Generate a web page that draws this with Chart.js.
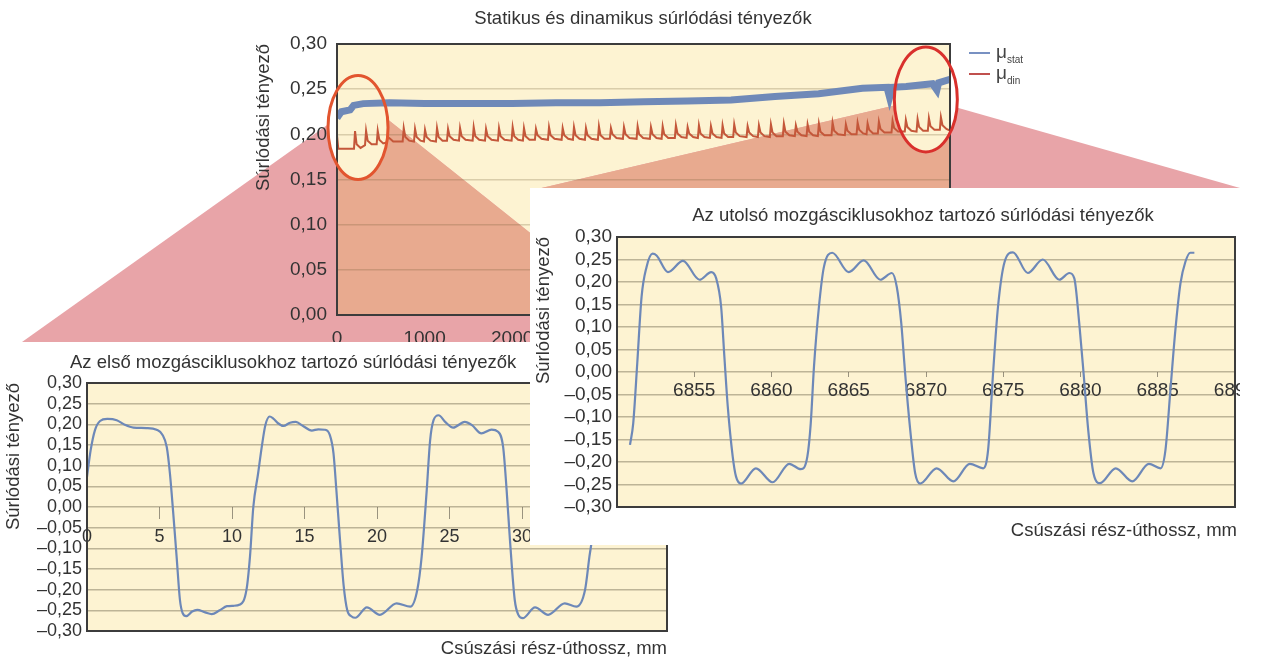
<!DOCTYPE html>
<html>
<head>
<meta charset="utf-8">
<script src="https://cdn.jsdelivr.net/npm/chart.js@4.4.1/dist/chart.umd.min.js"></script>
<style>
    body { margin: 0; background: #fff; font-family: "Liberation Sans", Arial, sans-serif; color: #333; }
    #wrap { position: relative; width: 1269px; height: 659px; overflow: hidden; }
    canvas { position: absolute; left: 0; top: 0; }
    .box { position: absolute; background: #fff; }
    .t { position: absolute; white-space: nowrap; font-size: 18.5px; line-height: 20px; color: #333; }
    #legend { position: absolute; left: 969px; top: 42px; font-size: 19px; color: #444; }
    #legend .row { display: flex; align-items: center; height: 21px; }
    #legend .sw { width: 21px; height: 2px; margin-right: 6px; }
    #legend sub { font-size: 10px; vertical-align: -5px; }
</style>
</head>
<body>
<div id="wrap">
    <canvas id="mainChart" width="1269" height="659"></canvas>
    <div class="t" style="left:643px; top:8px; transform:translateX(-50%);">Statikus és dinamikus súrlódási tényezők</div>
    <div id="legend">
        <div class="row"><span class="sw" style="background:#7891c2"></span><span>μ<sub>stat</sub></span></div>
        <div class="row"><span class="sw" style="background:#c0504d"></span><span>μ<sub>din</sub></span></div>
    </div>

    <div class="box" style="left:0; top:342px; width:680px; height:317px; z-index:1;">
        <canvas id="firstChart" width="680" height="317"></canvas>
        <div class="t" style="left:70px; top:10px;">Az első mozgásciklusokhoz tartozó súrlódási tényezők</div>
        <div class="t" style="right:13px; top:296px;">Csúszási rész-úthossz, mm</div>
    </div>

    <div class="box" style="left:530px; top:188px; width:710px; height:357px; z-index:2;">
        <canvas id="lastChart" width="710" height="357"></canvas>
        <div class="t" style="left:393px; top:17px; transform:translateX(-50%);">Az utolsó mozgásciklusokhoz tartozó súrlódási tényezők</div>
        <div class="t" style="right:3px; top:332px;">Csúszási rész-úthossz, mm</div>
    </div>
</div>

<script>
// --- Felső diagram: statikus / dinamikus súrlódási tényező a csúszási úthossz mentén ---
const mainXTicks = [0, 1000, 2000, 3000, 4000, 5000, 6000, 7000];
const mainYTicks = [0, 0.05, 0.10, 0.15, 0.20, 0.25, 0.30];

const statX = [0, 20, 50, 150, 190, 300, 600, 1000, 1500, 2000, 2500, 3000, 3500, 4000, 4500, 5000, 5500, 6000, 6280, 6310, 6340, 6500, 6800, 6850, 6870, 7000];
const statY = [0.218, 0.221, 0.225, 0.227, 0.232, 0.234, 0.235, 0.234, 0.234, 0.234, 0.235, 0.235, 0.236, 0.237, 0.238, 0.242, 0.245, 0.251, 0.252, 0.241, 0.252, 0.253, 0.256, 0.249, 0.257, 0.261];

// a dinamikus görbe csúcsai: hely, alapszint előtte, csúcsérték
const dinSpikeX = [194, 320, 453, 567, 750, 879, 993, 1130, 1256, 1393,
    1549, 1690, 1838, 1994, 2123, 2260, 2409, 2565, 2694, 2831,
    2979, 3116, 3265, 3421, 3573, 3707, 3858, 3992, 4121, 4258,
    4391, 4524, 4677, 4806, 4943, 5091, 5228, 5362, 5491, 5647,
    5799, 5933, 6047, 6176, 6332, 6484, 6618, 6747, 6884];
const dinBase = [0.184, 0.188, 0.189, 0.191, 0.192, 0.192, 0.192, 0.192, 0.193, 0.193,
    0.193, 0.193, 0.193, 0.193, 0.193, 0.194, 0.194, 0.194, 0.194, 0.194,
    0.194, 0.195, 0.195, 0.195, 0.195, 0.195, 0.196, 0.196, 0.196, 0.196,
    0.196, 0.197, 0.197, 0.197, 0.197, 0.198, 0.198, 0.198, 0.198, 0.199,
    0.199, 0.200, 0.200, 0.201, 0.202, 0.203, 0.203, 0.204, 0.205];
const dinPeak = [0.2035, 0.204, 0.204, 0.197, 0.207, 0.206, 0.205, 0.207, 0.206, 0.207,
    0.208, 0.206, 0.207, 0.208, 0.207, 0.206, 0.208, 0.207, 0.208, 0.207,
    0.209, 0.207, 0.208, 0.209, 0.208, 0.209, 0.210, 0.208, 0.210, 0.209,
    0.210, 0.211, 0.209, 0.210, 0.211, 0.212, 0.210, 0.211, 0.212, 0.213,
    0.211, 0.213, 0.212, 0.214, 0.215, 0.216, 0.217, 0.218, 0.219];

// --- Alsó diagramok: az első és az utolsó mozgásciklusok ---
const cycleYTicks = [-0.30, -0.25, -0.20, -0.15, -0.10, -0.05, 0, 0.05, 0.10, 0.15, 0.20, 0.25, 0.30];
const firstXTicks = [0, 5, 10, 15, 20, 25, 30, 35, 40];
const lastXTicks = [6855, 6860, 6865, 6870, 6875, 6880, 6885, 6890];

const firstX = [0, 0.25, 0.55, 0.9, 1.4, 2.05, 2.6, 3.2, 4.1, 4.8, 5.2, 5.5, 5.72, 5.95, 6.18, 6.41, 6.6, 6.85, 7.25, 7.6,
    8.15, 8.6, 9.15, 9.65, 10.1, 10.55, 11.0, 11.24, 11.47, 11.8, 12.05, 12.3, 12.6, 12.85, 13.2, 13.55, 14.0, 14.4, 14.9, 15.5,
    15.95, 16.4, 16.75, 17.0, 17.2, 17.45, 17.7, 17.95, 18.25, 18.5, 19.3, 20.2, 21.35, 22.3, 22.78, 23.08, 23.43, 23.66, 23.9, 24.25,
    24.7, 25.25, 26.05, 26.55, 27.2, 27.9, 28.35, 28.7, 28.94, 29.17, 29.5, 29.75, 30.05, 30.9, 31.8, 32.95, 33.75, 34.35, 34.65, 34.85,
    35.1, 35.4, 35.7, 36.1];
const firstY = [0.073, 0.137, 0.186, 0.208, 0.213, 0.210, 0.199, 0.192, 0.191, 0.187, 0.175, 0.145, 0.081, -0.016, -0.120, -0.225, -0.257, -0.264, -0.253, -0.249,
    -0.255, -0.259, -0.250, -0.240, -0.239, -0.236, -0.200, -0.120, 0.000, 0.081, 0.145, 0.198, 0.219, 0.214, 0.202, 0.196, 0.204, 0.206, 0.196, 0.185,
    0.188, 0.187, 0.174, 0.130, 0.040, -0.080, -0.190, -0.250, -0.265, -0.268, -0.243, -0.261, -0.233, -0.241, -0.200, -0.120, 0.041, 0.160, 0.210, 0.222,
    0.206, 0.192, 0.206, 0.198, 0.178, 0.187, 0.182, 0.145, 0.041, -0.080, -0.225, -0.261, -0.269, -0.243, -0.261, -0.233, -0.241, -0.200, -0.120, -0.070,
    0.040, 0.170, 0.210, 0.220];

const lastX = [6850.84, 6851.05, 6851.31, 6851.59, 6851.91, 6852.3, 6852.56, 6853.3, 6854.27, 6855.34, 6856.1, 6856.42, 6856.74, 6856.95, 6857.17,
    6857.49, 6857.7, 6858.03, 6858.99, 6860.07, 6861.15, 6861.9, 6862.32, 6862.54, 6862.75, 6863.07, 6863.39, 6863.93, 6865.0, 6865.97,
    6867.04, 6867.79, 6868.11, 6868.4, 6868.65, 6868.98, 6869.3, 6869.62, 6870.69, 6871.77, 6872.84, 6873.7, 6874.02, 6874.34, 6874.66,
    6875.09, 6875.63, 6876.59, 6877.56, 6878.63, 6879.28, 6879.6, 6879.92, 6880.2, 6880.5, 6880.84, 6881.27, 6882.28, 6883.35, 6884.43,
    6885.18, 6885.5, 6885.82, 6886.14, 6886.47, 6886.79, 6887.11, 6887.37];
const lastY = [-0.162, -0.114, 0.019, 0.167, 0.233, 0.263, 0.259, 0.222, 0.247, 0.205, 0.222, 0.208, 0.145, 0.034, -0.077,
    -0.188, -0.232, -0.248, -0.214, -0.245, -0.204, -0.216, -0.188, -0.114, 0.012, 0.145, 0.233, 0.265, 0.222, 0.248,
    0.205, 0.220, 0.189, 0.108, -0.003, -0.129, -0.225, -0.248, -0.214, -0.243, -0.204, -0.214, -0.173, -0.003, 0.145,
    0.245, 0.266, 0.220, 0.250, 0.205, 0.220, 0.208, 0.108, -0.003, -0.129, -0.225, -0.247, -0.214, -0.243, -0.204,
    -0.214, -0.173, -0.040, 0.093, 0.197, 0.245, 0.265, 0.265];

// nagyítási jelölések (ellipszis: adatkoordináta + sugár px-ben; legyező: oldal-koordináták)
const ellipses = [
    { x: 240, y: 0.2075, rx: 30, ry: 52, color: '#e2552f' },
    { x: 6724, y: 0.2386, rx: 31.5, ry: 52.5, color: '#d9302c' }
];
const fans = [
    [[330, 123], [386, 118], [667, 342], [22, 342]],
    [[905, 103], [955, 107], [1240, 188], [533, 190]]
];

const FONT = '"Liberation Sans", Arial, sans-serif';
const TEXT = '#333';
const PLOT_BG = '#fdf3d2';

const fmtComma = (v) => {
    const r = Math.round(v * 100) / 100;
    return (r < 0 ? '\u2013' : '') + Math.abs(r).toFixed(2).replace('.', ',');
};
const fixedTicks = (arr) => (scale) => { scale.ticks = arr.map(v => ({ value: v })); };
const toPoints = (xs, ys) => xs.map((x, i) => ({ x, y: ys[i] }));

const buildDinPoints = () => {
    const pts = [{ x: 0, y: 0.199 }, { x: 15, y: 0.184 }];
    dinSpikeX.forEach((x, i) => {
        const b = dinBase[i];
        pts.push({ x, y: b }, { x: x + 12, y: dinPeak[i] }, { x: x + 30, y: b + 0.005 }, { x: x + 75, y: b + 0.001 });
    });
    pts.push({ x: 7000, y: 0.204 });
    return pts;
};

const plotBg = {
    id: 'plotBg',
    beforeDraw(chart) {
        const { ctx, chartArea: a } = chart;
        ctx.save();
        ctx.fillStyle = PLOT_BG;
        ctx.fillRect(a.left, a.top, a.right - a.left, a.bottom - a.top);
        ctx.restore();
    }
};

const frame = {
    id: 'frame',
    afterDatasetsDraw(chart) {
        const { ctx, chartArea: a } = chart;
        ctx.save();
        ctx.strokeStyle = '#3c3c3c';
        ctx.lineWidth = 2;
        ctx.strokeRect(a.left, a.top, a.right - a.left, a.bottom - a.top);
        ctx.restore();
    }
};

const ellipsePx = (chart, e) => ({
    cx: chart.scales.x.getPixelForValue(e.x),
    cy: chart.scales.y.getPixelForValue(e.y),
    rx: e.rx, ry: e.ry, color: e.color
});

// legyezők a felső diagram plot-háttere fölött, az ellipszisek belsejét kihagyva
const zoomFans = {
    id: 'zoomFans',
    beforeDraw(chart) {
        const { ctx, chartArea: a } = chart;
        ctx.save();
        ctx.fillStyle = PLOT_BG;
        ctx.fillRect(a.left, a.top, a.right - a.left, a.bottom - a.top);

        ctx.beginPath();
        ctx.rect(0, 0, chart.width, chart.height);
        ellipses.map(e => ellipsePx(chart, e)).forEach(e => {
            ctx.moveTo(e.cx + e.rx, e.cy);
            ctx.ellipse(e.cx, e.cy, e.rx, e.ry, 0, 0, Math.PI * 2);
        });
        ctx.clip('evenodd');

        const poly = (pts) => {
            ctx.beginPath();
            pts.forEach(([px, py], i) => (i ? ctx.lineTo(px, py) : ctx.moveTo(px, py)));
            ctx.closePath();
        };
        fans.forEach(pts => {
            poly(pts);
            ctx.fillStyle = '#e8a4a8';
            ctx.fill();
            ctx.save();
            ctx.beginPath();
            ctx.rect(a.left, a.top, a.right - a.left, a.bottom - a.top);
            ctx.clip();
            poly(pts);
            ctx.fillStyle = '#e8aa8f';
            ctx.fill();
            ctx.restore();
        });
        ctx.restore();
    },
    afterDraw(chart) {
        const { ctx } = chart;
        ctx.save();
        ctx.lineWidth = 3;
        ellipses.map(e => ellipsePx(chart, e)).forEach(e => {
            ctx.strokeStyle = e.color;
            ctx.beginPath();
            ctx.ellipse(e.cx, e.cy, e.rx, e.ry, 0, 0, Math.PI * 2);
            ctx.stroke();
        });
        ctx.restore();
    }
};

const yTitle = {
    display: true,
    text: 'Súrlódási tényező',
    align: 'end',
    color: TEXT,
    font: { family: FONT, size: 18.5 },
    padding: { top: 3, bottom: 3 }
};

const baseOptions = (padding) => ({
    responsive: false,
    animation: false,
    devicePixelRatio: 1,
    layout: { padding },
    plugins: { legend: { display: false }, title: { display: false }, tooltip: { enabled: false } }
});

// felső diagram (teljes oldalt lefedő vászon, a plot terület paddinggel pozicionálva)
new Chart(document.getElementById('mainChart'), {
    type: 'line',
    data: {
        datasets: [
            {
                label: 'μstat',
                data: toPoints(statX, statY),
                borderColor: '#6f89b8',
                borderWidth: 7,
                pointRadius: 0,
                tension: 0
            },
            {
                label: 'μdin',
                data: buildDinPoints(),
                borderColor: '#c4573a',
                borderWidth: 2,
                pointRadius: 0,
                tension: 0
            }
        ]
    },
    options: {
        ...baseOptions({ left: 250, top: 44, right: 319, bottom: 314 }),
        scales: {
            x: {
                type: 'linear', min: 0, max: 7000,
                afterBuildTicks: fixedTicks(mainXTicks),
                afterFit: (s) => { s.height = 30; s.paddingLeft = 0; s.paddingRight = 0; },
                grid: { display: false },
                border: { display: false },
                ticks: { color: TEXT, font: { family: FONT, size: 19 }, padding: 4, maxRotation: 0, autoSkip: false, callback: (v) => String(v) }
            },
            y: {
                min: 0, max: 0.3,
                afterBuildTicks: fixedTicks(mainYTicks),
                afterFit: (s) => { s.width = 87; },
                grid: { color: 'rgba(110,90,50,0.25)', lineWidth: 1.5, drawTicks: false },
                border: { display: false },
                ticks: { color: TEXT, font: { family: FONT, size: 19 }, padding: 10, autoSkip: false, callback: fmtComma },
                title: yTitle
            }
        }
    },
    plugins: [zoomFans, frame]
});

const cycleChart = (id, xs, ys, xMin, xMax, xTicks, padding, tickFont, tickLen, tickPad, hideFirst) => new Chart(document.getElementById(id), {
    type: 'line',
    data: {
        datasets: [{
            data: toPoints(xs, ys),
            borderColor: '#6d88b8',
            borderWidth: 2.2,
            pointRadius: 0,
            cubicInterpolationMode: 'monotone'
        }]
    },
    options: {
        ...baseOptions(padding),
        scales: {
            x: {
                type: 'linear', min: xMin, max: xMax,
                position: { y: 0 },
                afterBuildTicks: fixedTicks(xTicks),
                afterFit: (s) => { s.height = 0; s.paddingLeft = 0; s.paddingRight = 0; },
                grid: { drawOnChartArea: false, drawTicks: true, tickLength: tickLen, color: '#9a937f', lineWidth: 1 },
                border: { display: false },
                ticks: {
                    color: TEXT, font: { family: FONT, size: tickFont }, padding: tickPad, maxRotation: 0, autoSkip: false,
                    callback: (v) => (hideFirst && v === xMin ? '' : String(v))
                }
            },
            y: {
                min: -0.3, max: 0.3,
                afterBuildTicks: fixedTicks(cycleYTicks),
                afterFit: (s) => { s.width = 87; },
                grid: { color: 'rgba(100,92,70,0.42)', lineWidth: 1.5, drawTicks: false },
                border: { display: false },
                ticks: { color: TEXT, font: { family: FONT, size: tickFont }, padding: 5, autoSkip: false, callback: fmtComma },
                title: yTitle
            }
        }
    },
    plugins: [plotBg, frame]
});

cycleChart('firstChart', firstX, firstY, 0, 40, firstXTicks, { left: 0, top: 41, right: 13, bottom: 28 }, 18, 12, 7, false);
cycleChart('lastChart', lastX, lastY, 6850, 6890, lastXTicks, { left: 0, top: 49, right: 5, bottom: 38 }, 19, 5, 2, true);
</script>
</body>
</html>
